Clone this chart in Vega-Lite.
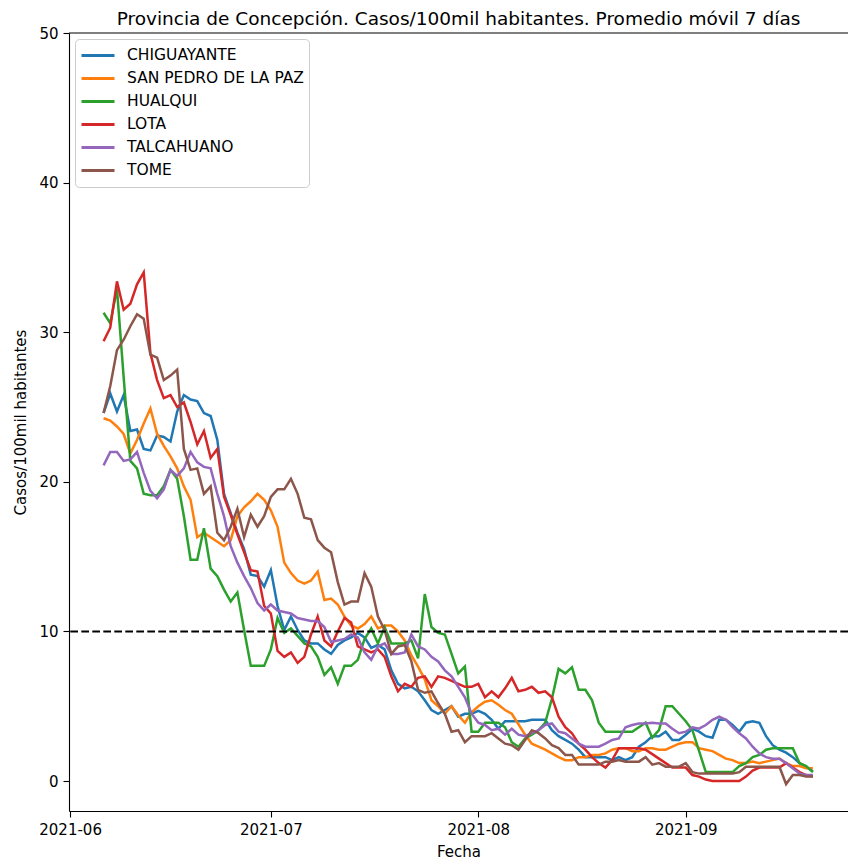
{
"$schema": "https://vega.github.io/schema/vega-lite/v6.json",
"autosize": {"type": "none"},
"padding": {"left": 69, "top": 33, "right": 0, "bottom": 48},
"width": 779,
"height": 778,
"background": "white",
"title": {"text": "Provincia de Concepción. Casos/100mil habitantes. Promedio móvil 7 días", "font": "DejaVu Sans", "fontSize": 18.5, "fontWeight": "normal", "color": "#000", "anchor": "middle", "offset": -2},
"datasets": {
"series": [
{"t":"2021-06-06","s":"CHIGUAYANTE","v":24.6},{"t":"2021-06-07","s":"CHIGUAYANTE","v":25.9},{"t":"2021-06-08","s":"CHIGUAYANTE","v":24.7},{"t":"2021-06-09","s":"CHIGUAYANTE","v":25.8},{"t":"2021-06-10","s":"CHIGUAYANTE","v":23.4},{"t":"2021-06-11","s":"CHIGUAYANTE","v":23.5},{"t":"2021-06-12","s":"CHIGUAYANTE","v":22.2},{"t":"2021-06-13","s":"CHIGUAYANTE","v":22.1},{"t":"2021-06-14","s":"CHIGUAYANTE","v":23.1},{"t":"2021-06-15","s":"CHIGUAYANTE","v":23.0},{"t":"2021-06-16","s":"CHIGUAYANTE","v":22.7},{"t":"2021-06-17","s":"CHIGUAYANTE","v":24.7},{"t":"2021-06-18","s":"CHIGUAYANTE","v":25.8},{"t":"2021-06-19","s":"CHIGUAYANTE","v":25.5},{"t":"2021-06-20","s":"CHIGUAYANTE","v":25.4},{"t":"2021-06-21","s":"CHIGUAYANTE","v":24.6},{"t":"2021-06-22","s":"CHIGUAYANTE","v":24.4},{"t":"2021-06-23","s":"CHIGUAYANTE","v":22.8},{"t":"2021-06-24","s":"CHIGUAYANTE","v":19.2},{"t":"2021-06-25","s":"CHIGUAYANTE","v":17.9},{"t":"2021-06-26","s":"CHIGUAYANTE","v":16.6},{"t":"2021-06-27","s":"CHIGUAYANTE","v":15.5},{"t":"2021-06-28","s":"CHIGUAYANTE","v":13.8},{"t":"2021-06-29","s":"CHIGUAYANTE","v":13.7},{"t":"2021-06-30","s":"CHIGUAYANTE","v":13.0},
{"t":"2021-07-01","s":"CHIGUAYANTE","v":14.1},{"t":"2021-07-02","s":"CHIGUAYANTE","v":11.7},{"t":"2021-07-03","s":"CHIGUAYANTE","v":10.1},{"t":"2021-07-04","s":"CHIGUAYANTE","v":11.0},{"t":"2021-07-05","s":"CHIGUAYANTE","v":10.1},{"t":"2021-07-06","s":"CHIGUAYANTE","v":9.4},{"t":"2021-07-07","s":"CHIGUAYANTE","v":9.2},{"t":"2021-07-08","s":"CHIGUAYANTE","v":9.2},{"t":"2021-07-09","s":"CHIGUAYANTE","v":8.8},{"t":"2021-07-10","s":"CHIGUAYANTE","v":8.5},{"t":"2021-07-11","s":"CHIGUAYANTE","v":9.1},{"t":"2021-07-12","s":"CHIGUAYANTE","v":9.4},{"t":"2021-07-13","s":"CHIGUAYANTE","v":9.6},{"t":"2021-07-14","s":"CHIGUAYANTE","v":9.9},{"t":"2021-07-15","s":"CHIGUAYANTE","v":9.6},{"t":"2021-07-16","s":"CHIGUAYANTE","v":8.9},{"t":"2021-07-17","s":"CHIGUAYANTE","v":9.1},{"t":"2021-07-18","s":"CHIGUAYANTE","v":8.8},{"t":"2021-07-19","s":"CHIGUAYANTE","v":7.4},{"t":"2021-07-20","s":"CHIGUAYANTE","v":6.5},{"t":"2021-07-21","s":"CHIGUAYANTE","v":6.2},{"t":"2021-07-22","s":"CHIGUAYANTE","v":6.3},{"t":"2021-07-23","s":"CHIGUAYANTE","v":6.0},{"t":"2021-07-24","s":"CHIGUAYANTE","v":5.4},{"t":"2021-07-25","s":"CHIGUAYANTE","v":4.75},{"t":"2021-07-26","s":"CHIGUAYANTE","v":4.5},{"t":"2021-07-27","s":"CHIGUAYANTE","v":4.75},{"t":"2021-07-28","s":"CHIGUAYANTE","v":5.0},{"t":"2021-07-29","s":"CHIGUAYANTE","v":4.3},{"t":"2021-07-30","s":"CHIGUAYANTE","v":4.5},{"t":"2021-07-31","s":"CHIGUAYANTE","v":4.5},
{"t":"2021-08-01","s":"CHIGUAYANTE","v":4.7},{"t":"2021-08-02","s":"CHIGUAYANTE","v":4.5},{"t":"2021-08-03","s":"CHIGUAYANTE","v":4.1},{"t":"2021-08-04","s":"CHIGUAYANTE","v":3.5},{"t":"2021-08-05","s":"CHIGUAYANTE","v":4.0},{"t":"2021-08-06","s":"CHIGUAYANTE","v":4.0},{"t":"2021-08-07","s":"CHIGUAYANTE","v":4.0},{"t":"2021-08-08","s":"CHIGUAYANTE","v":4.0},{"t":"2021-08-09","s":"CHIGUAYANTE","v":4.1},{"t":"2021-08-10","s":"CHIGUAYANTE","v":4.1},{"t":"2021-08-11","s":"CHIGUAYANTE","v":4.1},{"t":"2021-08-12","s":"CHIGUAYANTE","v":3.4},{"t":"2021-08-13","s":"CHIGUAYANTE","v":3.0},{"t":"2021-08-14","s":"CHIGUAYANTE","v":2.75},{"t":"2021-08-15","s":"CHIGUAYANTE","v":2.5},{"t":"2021-08-16","s":"CHIGUAYANTE","v":2.1},{"t":"2021-08-17","s":"CHIGUAYANTE","v":1.6},{"t":"2021-08-18","s":"CHIGUAYANTE","v":1.6},{"t":"2021-08-19","s":"CHIGUAYANTE","v":1.6},{"t":"2021-08-20","s":"CHIGUAYANTE","v":1.6},{"t":"2021-08-21","s":"CHIGUAYANTE","v":1.4},{"t":"2021-08-22","s":"CHIGUAYANTE","v":1.6},{"t":"2021-08-23","s":"CHIGUAYANTE","v":1.4},{"t":"2021-08-24","s":"CHIGUAYANTE","v":1.6},{"t":"2021-08-25","s":"CHIGUAYANTE","v":2.3},{"t":"2021-08-26","s":"CHIGUAYANTE","v":2.6},{"t":"2021-08-27","s":"CHIGUAYANTE","v":3.0},{"t":"2021-08-28","s":"CHIGUAYANTE","v":3.0},{"t":"2021-08-29","s":"CHIGUAYANTE","v":3.3},{"t":"2021-08-30","s":"CHIGUAYANTE","v":2.75},{"t":"2021-08-31","s":"CHIGUAYANTE","v":2.75},
{"t":"2021-09-01","s":"CHIGUAYANTE","v":3.1},{"t":"2021-09-02","s":"CHIGUAYANTE","v":3.5},{"t":"2021-09-03","s":"CHIGUAYANTE","v":3.3},{"t":"2021-09-04","s":"CHIGUAYANTE","v":3.0},{"t":"2021-09-05","s":"CHIGUAYANTE","v":2.9},{"t":"2021-09-06","s":"CHIGUAYANTE","v":4.1},{"t":"2021-09-07","s":"CHIGUAYANTE","v":4.1},{"t":"2021-09-08","s":"CHIGUAYANTE","v":3.75},{"t":"2021-09-09","s":"CHIGUAYANTE","v":3.3},{"t":"2021-09-10","s":"CHIGUAYANTE","v":3.9},{"t":"2021-09-11","s":"CHIGUAYANTE","v":4.0},{"t":"2021-09-12","s":"CHIGUAYANTE","v":3.9},{"t":"2021-09-13","s":"CHIGUAYANTE","v":3.0},{"t":"2021-09-14","s":"CHIGUAYANTE","v":2.4},{"t":"2021-09-15","s":"CHIGUAYANTE","v":2.1},{"t":"2021-09-16","s":"CHIGUAYANTE","v":1.9},{"t":"2021-09-17","s":"CHIGUAYANTE","v":1.6},{"t":"2021-09-18","s":"CHIGUAYANTE","v":1.2},{"t":"2021-09-19","s":"CHIGUAYANTE","v":0.96},{"t":"2021-09-20","s":"CHIGUAYANTE","v":0.65},

{"t":"2021-06-06","s":"SAN PEDRO DE LA PAZ","v":24.25},{"t":"2021-06-07","s":"SAN PEDRO DE LA PAZ","v":24.1},{"t":"2021-06-08","s":"SAN PEDRO DE LA PAZ","v":23.7},{"t":"2021-06-09","s":"SAN PEDRO DE LA PAZ","v":23.2},{"t":"2021-06-10","s":"SAN PEDRO DE LA PAZ","v":21.9},{"t":"2021-06-11","s":"SAN PEDRO DE LA PAZ","v":22.8},{"t":"2021-06-12","s":"SAN PEDRO DE LA PAZ","v":23.9},{"t":"2021-06-13","s":"SAN PEDRO DE LA PAZ","v":24.9},{"t":"2021-06-14","s":"SAN PEDRO DE LA PAZ","v":23.2},{"t":"2021-06-15","s":"SAN PEDRO DE LA PAZ","v":22.4},{"t":"2021-06-16","s":"SAN PEDRO DE LA PAZ","v":21.7},{"t":"2021-06-17","s":"SAN PEDRO DE LA PAZ","v":20.9},{"t":"2021-06-18","s":"SAN PEDRO DE LA PAZ","v":19.7},{"t":"2021-06-19","s":"SAN PEDRO DE LA PAZ","v":18.8},{"t":"2021-06-20","s":"SAN PEDRO DE LA PAZ","v":16.3},{"t":"2021-06-21","s":"SAN PEDRO DE LA PAZ","v":16.6},{"t":"2021-06-22","s":"SAN PEDRO DE LA PAZ","v":16.3},{"t":"2021-06-23","s":"SAN PEDRO DE LA PAZ","v":16.0},{"t":"2021-06-24","s":"SAN PEDRO DE LA PAZ","v":15.7},{"t":"2021-06-25","s":"SAN PEDRO DE LA PAZ","v":16.1},{"t":"2021-06-26","s":"SAN PEDRO DE LA PAZ","v":17.7},{"t":"2021-06-27","s":"SAN PEDRO DE LA PAZ","v":18.3},{"t":"2021-06-28","s":"SAN PEDRO DE LA PAZ","v":18.7},{"t":"2021-06-29","s":"SAN PEDRO DE LA PAZ","v":19.2},{"t":"2021-06-30","s":"SAN PEDRO DE LA PAZ","v":18.8},
{"t":"2021-07-01","s":"SAN PEDRO DE LA PAZ","v":18.1},{"t":"2021-07-02","s":"SAN PEDRO DE LA PAZ","v":17.0},{"t":"2021-07-03","s":"SAN PEDRO DE LA PAZ","v":14.6},{"t":"2021-07-04","s":"SAN PEDRO DE LA PAZ","v":13.9},{"t":"2021-07-05","s":"SAN PEDRO DE LA PAZ","v":13.4},{"t":"2021-07-06","s":"SAN PEDRO DE LA PAZ","v":13.2},{"t":"2021-07-07","s":"SAN PEDRO DE LA PAZ","v":13.4},{"t":"2021-07-08","s":"SAN PEDRO DE LA PAZ","v":14.0},{"t":"2021-07-09","s":"SAN PEDRO DE LA PAZ","v":12.1},{"t":"2021-07-10","s":"SAN PEDRO DE LA PAZ","v":12.2},{"t":"2021-07-11","s":"SAN PEDRO DE LA PAZ","v":11.8},{"t":"2021-07-12","s":"SAN PEDRO DE LA PAZ","v":11.0},{"t":"2021-07-13","s":"SAN PEDRO DE LA PAZ","v":10.4},{"t":"2021-07-14","s":"SAN PEDRO DE LA PAZ","v":10.2},{"t":"2021-07-15","s":"SAN PEDRO DE LA PAZ","v":10.5},{"t":"2021-07-16","s":"SAN PEDRO DE LA PAZ","v":11.0},{"t":"2021-07-17","s":"SAN PEDRO DE LA PAZ","v":10.2},{"t":"2021-07-18","s":"SAN PEDRO DE LA PAZ","v":10.4},{"t":"2021-07-19","s":"SAN PEDRO DE LA PAZ","v":10.4},{"t":"2021-07-20","s":"SAN PEDRO DE LA PAZ","v":10.0},{"t":"2021-07-21","s":"SAN PEDRO DE LA PAZ","v":9.4},{"t":"2021-07-22","s":"SAN PEDRO DE LA PAZ","v":8.4},{"t":"2021-07-23","s":"SAN PEDRO DE LA PAZ","v":7.65},{"t":"2021-07-24","s":"SAN PEDRO DE LA PAZ","v":6.8},{"t":"2021-07-25","s":"SAN PEDRO DE LA PAZ","v":5.4},{"t":"2021-07-26","s":"SAN PEDRO DE LA PAZ","v":5.0},{"t":"2021-07-27","s":"SAN PEDRO DE LA PAZ","v":4.5},{"t":"2021-07-28","s":"SAN PEDRO DE LA PAZ","v":5.0},{"t":"2021-07-29","s":"SAN PEDRO DE LA PAZ","v":4.4},{"t":"2021-07-30","s":"SAN PEDRO DE LA PAZ","v":3.9},{"t":"2021-07-31","s":"SAN PEDRO DE LA PAZ","v":4.6},
{"t":"2021-08-01","s":"SAN PEDRO DE LA PAZ","v":5.0},{"t":"2021-08-02","s":"SAN PEDRO DE LA PAZ","v":5.3},{"t":"2021-08-03","s":"SAN PEDRO DE LA PAZ","v":5.4},{"t":"2021-08-04","s":"SAN PEDRO DE LA PAZ","v":5.1},{"t":"2021-08-05","s":"SAN PEDRO DE LA PAZ","v":4.75},{"t":"2021-08-06","s":"SAN PEDRO DE LA PAZ","v":4.5},{"t":"2021-08-07","s":"SAN PEDRO DE LA PAZ","v":3.8},{"t":"2021-08-08","s":"SAN PEDRO DE LA PAZ","v":3.1},{"t":"2021-08-09","s":"SAN PEDRO DE LA PAZ","v":2.5},{"t":"2021-08-10","s":"SAN PEDRO DE LA PAZ","v":2.3},{"t":"2021-08-11","s":"SAN PEDRO DE LA PAZ","v":2.1},{"t":"2021-08-12","s":"SAN PEDRO DE LA PAZ","v":1.85},{"t":"2021-08-13","s":"SAN PEDRO DE LA PAZ","v":1.6},{"t":"2021-08-14","s":"SAN PEDRO DE LA PAZ","v":1.4},{"t":"2021-08-15","s":"SAN PEDRO DE LA PAZ","v":1.4},{"t":"2021-08-16","s":"SAN PEDRO DE LA PAZ","v":1.6},{"t":"2021-08-17","s":"SAN PEDRO DE LA PAZ","v":1.6},{"t":"2021-08-18","s":"SAN PEDRO DE LA PAZ","v":1.75},{"t":"2021-08-19","s":"SAN PEDRO DE LA PAZ","v":1.75},{"t":"2021-08-20","s":"SAN PEDRO DE LA PAZ","v":1.85},{"t":"2021-08-21","s":"SAN PEDRO DE LA PAZ","v":2.1},{"t":"2021-08-22","s":"SAN PEDRO DE LA PAZ","v":2.2},{"t":"2021-08-23","s":"SAN PEDRO DE LA PAZ","v":2.2},{"t":"2021-08-24","s":"SAN PEDRO DE LA PAZ","v":2.0},{"t":"2021-08-25","s":"SAN PEDRO DE LA PAZ","v":2.0},{"t":"2021-08-26","s":"SAN PEDRO DE LA PAZ","v":2.2},{"t":"2021-08-27","s":"SAN PEDRO DE LA PAZ","v":2.2},{"t":"2021-08-28","s":"SAN PEDRO DE LA PAZ","v":2.1},{"t":"2021-08-29","s":"SAN PEDRO DE LA PAZ","v":2.1},{"t":"2021-08-30","s":"SAN PEDRO DE LA PAZ","v":2.3},{"t":"2021-08-31","s":"SAN PEDRO DE LA PAZ","v":2.5},
{"t":"2021-09-01","s":"SAN PEDRO DE LA PAZ","v":2.6},{"t":"2021-09-02","s":"SAN PEDRO DE LA PAZ","v":2.6},{"t":"2021-09-03","s":"SAN PEDRO DE LA PAZ","v":2.2},{"t":"2021-09-04","s":"SAN PEDRO DE LA PAZ","v":2.1},{"t":"2021-09-05","s":"SAN PEDRO DE LA PAZ","v":2.0},{"t":"2021-09-06","s":"SAN PEDRO DE LA PAZ","v":1.75},{"t":"2021-09-07","s":"SAN PEDRO DE LA PAZ","v":1.5},{"t":"2021-09-08","s":"SAN PEDRO DE LA PAZ","v":1.4},{"t":"2021-09-09","s":"SAN PEDRO DE LA PAZ","v":1.2},{"t":"2021-09-10","s":"SAN PEDRO DE LA PAZ","v":1.2},{"t":"2021-09-11","s":"SAN PEDRO DE LA PAZ","v":1.3},{"t":"2021-09-12","s":"SAN PEDRO DE LA PAZ","v":1.2},{"t":"2021-09-13","s":"SAN PEDRO DE LA PAZ","v":1.3},{"t":"2021-09-14","s":"SAN PEDRO DE LA PAZ","v":1.4},{"t":"2021-09-15","s":"SAN PEDRO DE LA PAZ","v":1.5},{"t":"2021-09-16","s":"SAN PEDRO DE LA PAZ","v":1.2},{"t":"2021-09-17","s":"SAN PEDRO DE LA PAZ","v":1.0},{"t":"2021-09-18","s":"SAN PEDRO DE LA PAZ","v":1.0},{"t":"2021-09-19","s":"SAN PEDRO DE LA PAZ","v":0.85},{"t":"2021-09-20","s":"SAN PEDRO DE LA PAZ","v":0.85},

{"t":"2021-06-06","s":"HUALQUI","v":31.3},{"t":"2021-06-07","s":"HUALQUI","v":30.6},{"t":"2021-06-08","s":"HUALQUI","v":32.9},{"t":"2021-06-09","s":"HUALQUI","v":27.0},{"t":"2021-06-10","s":"HUALQUI","v":21.4},{"t":"2021-06-11","s":"HUALQUI","v":20.9},{"t":"2021-06-12","s":"HUALQUI","v":19.2},{"t":"2021-06-13","s":"HUALQUI","v":19.1},{"t":"2021-06-14","s":"HUALQUI","v":19.1},{"t":"2021-06-15","s":"HUALQUI","v":19.7},{"t":"2021-06-16","s":"HUALQUI","v":20.8},{"t":"2021-06-17","s":"HUALQUI","v":20.2},{"t":"2021-06-18","s":"HUALQUI","v":17.7},{"t":"2021-06-19","s":"HUALQUI","v":14.8},{"t":"2021-06-20","s":"HUALQUI","v":14.8},{"t":"2021-06-21","s":"HUALQUI","v":16.9},{"t":"2021-06-22","s":"HUALQUI","v":14.2},{"t":"2021-06-23","s":"HUALQUI","v":13.7},{"t":"2021-06-24","s":"HUALQUI","v":12.8},{"t":"2021-06-25","s":"HUALQUI","v":12.0},{"t":"2021-06-26","s":"HUALQUI","v":12.6},{"t":"2021-06-27","s":"HUALQUI","v":10.1},{"t":"2021-06-28","s":"HUALQUI","v":7.7},{"t":"2021-06-29","s":"HUALQUI","v":7.7},{"t":"2021-06-30","s":"HUALQUI","v":7.7},
{"t":"2021-07-01","s":"HUALQUI","v":8.8},{"t":"2021-07-02","s":"HUALQUI","v":10.9},{"t":"2021-07-03","s":"HUALQUI","v":9.9},{"t":"2021-07-04","s":"HUALQUI","v":10.2},{"t":"2021-07-05","s":"HUALQUI","v":9.7},{"t":"2021-07-06","s":"HUALQUI","v":9.2},{"t":"2021-07-07","s":"HUALQUI","v":9.0},{"t":"2021-07-08","s":"HUALQUI","v":8.3},{"t":"2021-07-09","s":"HUALQUI","v":7.1},{"t":"2021-07-10","s":"HUALQUI","v":7.6},{"t":"2021-07-11","s":"HUALQUI","v":6.5},{"t":"2021-07-12","s":"HUALQUI","v":7.7},{"t":"2021-07-13","s":"HUALQUI","v":7.7},{"t":"2021-07-14","s":"HUALQUI","v":8.1},{"t":"2021-07-15","s":"HUALQUI","v":9.5},{"t":"2021-07-16","s":"HUALQUI","v":10.2},{"t":"2021-07-17","s":"HUALQUI","v":9.2},{"t":"2021-07-18","s":"HUALQUI","v":10.3},{"t":"2021-07-19","s":"HUALQUI","v":9.2},{"t":"2021-07-20","s":"HUALQUI","v":9.2},{"t":"2021-07-21","s":"HUALQUI","v":9.2},{"t":"2021-07-22","s":"HUALQUI","v":9.4},{"t":"2021-07-23","s":"HUALQUI","v":8.2},{"t":"2021-07-24","s":"HUALQUI","v":12.5},{"t":"2021-07-25","s":"HUALQUI","v":10.3},{"t":"2021-07-26","s":"HUALQUI","v":9.9},{"t":"2021-07-27","s":"HUALQUI","v":9.8},{"t":"2021-07-28","s":"HUALQUI","v":8.5},{"t":"2021-07-29","s":"HUALQUI","v":7.2},{"t":"2021-07-30","s":"HUALQUI","v":7.65},{"t":"2021-07-31","s":"HUALQUI","v":3.3},
{"t":"2021-08-01","s":"HUALQUI","v":3.3},{"t":"2021-08-02","s":"HUALQUI","v":3.9},{"t":"2021-08-03","s":"HUALQUI","v":3.9},{"t":"2021-08-04","s":"HUALQUI","v":3.9},{"t":"2021-08-05","s":"HUALQUI","v":3.6},{"t":"2021-08-06","s":"HUALQUI","v":2.6},{"t":"2021-08-07","s":"HUALQUI","v":2.3},{"t":"2021-08-08","s":"HUALQUI","v":2.85},{"t":"2021-08-09","s":"HUALQUI","v":3.1},{"t":"2021-08-10","s":"HUALQUI","v":3.4},{"t":"2021-08-11","s":"HUALQUI","v":3.9},{"t":"2021-08-12","s":"HUALQUI","v":5.5},{"t":"2021-08-13","s":"HUALQUI","v":7.5},{"t":"2021-08-14","s":"HUALQUI","v":7.2},{"t":"2021-08-15","s":"HUALQUI","v":7.6},{"t":"2021-08-16","s":"HUALQUI","v":6.1},{"t":"2021-08-17","s":"HUALQUI","v":6.1},{"t":"2021-08-18","s":"HUALQUI","v":5.4},{"t":"2021-08-19","s":"HUALQUI","v":3.9},{"t":"2021-08-20","s":"HUALQUI","v":3.3},{"t":"2021-08-21","s":"HUALQUI","v":3.3},{"t":"2021-08-22","s":"HUALQUI","v":3.3},{"t":"2021-08-23","s":"HUALQUI","v":3.3},{"t":"2021-08-24","s":"HUALQUI","v":3.3},{"t":"2021-08-25","s":"HUALQUI","v":3.6},{"t":"2021-08-26","s":"HUALQUI","v":3.9},{"t":"2021-08-27","s":"HUALQUI","v":2.9},{"t":"2021-08-28","s":"HUALQUI","v":3.4},{"t":"2021-08-29","s":"HUALQUI","v":5.0},{"t":"2021-08-30","s":"HUALQUI","v":5.0},{"t":"2021-08-31","s":"HUALQUI","v":4.5},
{"t":"2021-09-01","s":"HUALQUI","v":4.0},{"t":"2021-09-02","s":"HUALQUI","v":3.4},{"t":"2021-09-03","s":"HUALQUI","v":2.0},{"t":"2021-09-04","s":"HUALQUI","v":0.6},{"t":"2021-09-05","s":"HUALQUI","v":0.6},{"t":"2021-09-06","s":"HUALQUI","v":0.6},{"t":"2021-09-07","s":"HUALQUI","v":0.6},{"t":"2021-09-08","s":"HUALQUI","v":0.6},{"t":"2021-09-09","s":"HUALQUI","v":1.0},{"t":"2021-09-10","s":"HUALQUI","v":1.2},{"t":"2021-09-11","s":"HUALQUI","v":1.6},{"t":"2021-09-12","s":"HUALQUI","v":1.75},{"t":"2021-09-13","s":"HUALQUI","v":2.1},{"t":"2021-09-14","s":"HUALQUI","v":2.2},{"t":"2021-09-15","s":"HUALQUI","v":2.2},{"t":"2021-09-16","s":"HUALQUI","v":2.2},{"t":"2021-09-17","s":"HUALQUI","v":2.2},{"t":"2021-09-18","s":"HUALQUI","v":1.2},{"t":"2021-09-19","s":"HUALQUI","v":1.0},{"t":"2021-09-20","s":"HUALQUI","v":0.6},

{"t":"2021-06-06","s":"LOTA","v":29.4},{"t":"2021-06-07","s":"LOTA","v":30.3},{"t":"2021-06-08","s":"LOTA","v":33.4},{"t":"2021-06-09","s":"LOTA","v":31.5},{"t":"2021-06-10","s":"LOTA","v":31.9},{"t":"2021-06-11","s":"LOTA","v":33.2},{"t":"2021-06-12","s":"LOTA","v":34.0},{"t":"2021-06-13","s":"LOTA","v":28.6},{"t":"2021-06-14","s":"LOTA","v":26.8},{"t":"2021-06-15","s":"LOTA","v":25.6},{"t":"2021-06-16","s":"LOTA","v":25.8},{"t":"2021-06-17","s":"LOTA","v":25.0},{"t":"2021-06-18","s":"LOTA","v":25.3},{"t":"2021-06-19","s":"LOTA","v":24.0},{"t":"2021-06-20","s":"LOTA","v":22.5},{"t":"2021-06-21","s":"LOTA","v":23.4},{"t":"2021-06-22","s":"LOTA","v":21.6},{"t":"2021-06-23","s":"LOTA","v":22.2},{"t":"2021-06-24","s":"LOTA","v":19.0},{"t":"2021-06-25","s":"LOTA","v":17.8},{"t":"2021-06-26","s":"LOTA","v":16.5},{"t":"2021-06-27","s":"LOTA","v":15.3},{"t":"2021-06-28","s":"LOTA","v":14.1},{"t":"2021-06-29","s":"LOTA","v":14.0},{"t":"2021-06-30","s":"LOTA","v":11.7},
{"t":"2021-07-01","s":"LOTA","v":11.2},{"t":"2021-07-02","s":"LOTA","v":8.7},{"t":"2021-07-03","s":"LOTA","v":8.3},{"t":"2021-07-04","s":"LOTA","v":8.6},{"t":"2021-07-05","s":"LOTA","v":7.9},{"t":"2021-07-06","s":"LOTA","v":8.3},{"t":"2021-07-07","s":"LOTA","v":9.8},{"t":"2021-07-08","s":"LOTA","v":11.0},{"t":"2021-07-09","s":"LOTA","v":9.4},{"t":"2021-07-10","s":"LOTA","v":9.0},{"t":"2021-07-11","s":"LOTA","v":10.0},{"t":"2021-07-12","s":"LOTA","v":10.9},{"t":"2021-07-13","s":"LOTA","v":10.6},{"t":"2021-07-14","s":"LOTA","v":9.0},{"t":"2021-07-15","s":"LOTA","v":8.8},{"t":"2021-07-16","s":"LOTA","v":8.6},{"t":"2021-07-17","s":"LOTA","v":8.8},{"t":"2021-07-18","s":"LOTA","v":8.3},{"t":"2021-07-19","s":"LOTA","v":7.0},{"t":"2021-07-20","s":"LOTA","v":6.0},{"t":"2021-07-21","s":"LOTA","v":6.5},{"t":"2021-07-22","s":"LOTA","v":6.3},{"t":"2021-07-23","s":"LOTA","v":6.9},{"t":"2021-07-24","s":"LOTA","v":7.0},{"t":"2021-07-25","s":"LOTA","v":6.3},{"t":"2021-07-26","s":"LOTA","v":7.0},{"t":"2021-07-27","s":"LOTA","v":6.9},{"t":"2021-07-28","s":"LOTA","v":6.7},{"t":"2021-07-29","s":"LOTA","v":6.5},{"t":"2021-07-30","s":"LOTA","v":6.3},{"t":"2021-07-31","s":"LOTA","v":6.3},
{"t":"2021-08-01","s":"LOTA","v":6.5},{"t":"2021-08-02","s":"LOTA","v":5.6},{"t":"2021-08-03","s":"LOTA","v":6.0},{"t":"2021-08-04","s":"LOTA","v":5.6},{"t":"2021-08-05","s":"LOTA","v":6.2},{"t":"2021-08-06","s":"LOTA","v":6.9},{"t":"2021-08-07","s":"LOTA","v":6.0},{"t":"2021-08-08","s":"LOTA","v":6.1},{"t":"2021-08-09","s":"LOTA","v":6.3},{"t":"2021-08-10","s":"LOTA","v":5.9},{"t":"2021-08-11","s":"LOTA","v":6.0},{"t":"2021-08-12","s":"LOTA","v":5.6},{"t":"2021-08-13","s":"LOTA","v":4.3},{"t":"2021-08-14","s":"LOTA","v":3.6},{"t":"2021-08-15","s":"LOTA","v":3.2},{"t":"2021-08-16","s":"LOTA","v":2.5},{"t":"2021-08-17","s":"LOTA","v":2.1},{"t":"2021-08-18","s":"LOTA","v":1.6},{"t":"2021-08-19","s":"LOTA","v":1.2},{"t":"2021-08-20","s":"LOTA","v":0.9},{"t":"2021-08-21","s":"LOTA","v":1.4},{"t":"2021-08-22","s":"LOTA","v":2.2},{"t":"2021-08-23","s":"LOTA","v":2.2},{"t":"2021-08-24","s":"LOTA","v":2.2},{"t":"2021-08-25","s":"LOTA","v":2.2},{"t":"2021-08-26","s":"LOTA","v":2.1},{"t":"2021-08-27","s":"LOTA","v":1.8},{"t":"2021-08-28","s":"LOTA","v":1.5},{"t":"2021-08-29","s":"LOTA","v":1.2},{"t":"2021-08-30","s":"LOTA","v":0.9},{"t":"2021-08-31","s":"LOTA","v":0.9},
{"t":"2021-09-01","s":"LOTA","v":0.9},{"t":"2021-09-02","s":"LOTA","v":0.4},{"t":"2021-09-03","s":"LOTA","v":0.3},{"t":"2021-09-04","s":"LOTA","v":0.1},{"t":"2021-09-05","s":"LOTA","v":0.0},{"t":"2021-09-06","s":"LOTA","v":0.0},{"t":"2021-09-07","s":"LOTA","v":0.0},{"t":"2021-09-08","s":"LOTA","v":0.0},{"t":"2021-09-09","s":"LOTA","v":0.0},{"t":"2021-09-10","s":"LOTA","v":0.3},{"t":"2021-09-11","s":"LOTA","v":0.7},{"t":"2021-09-12","s":"LOTA","v":0.9},{"t":"2021-09-13","s":"LOTA","v":0.9},{"t":"2021-09-14","s":"LOTA","v":0.9},{"t":"2021-09-15","s":"LOTA","v":0.9},{"t":"2021-09-16","s":"LOTA","v":1.2},{"t":"2021-09-17","s":"LOTA","v":0.9},{"t":"2021-09-18","s":"LOTA","v":0.6},{"t":"2021-09-19","s":"LOTA","v":0.4},{"t":"2021-09-20","s":"LOTA","v":0.3},

{"t":"2021-06-06","s":"TALCAHUANO","v":21.1},{"t":"2021-06-07","s":"TALCAHUANO","v":22.0},{"t":"2021-06-08","s":"TALCAHUANO","v":22.0},{"t":"2021-06-09","s":"TALCAHUANO","v":21.4},{"t":"2021-06-10","s":"TALCAHUANO","v":21.5},{"t":"2021-06-11","s":"TALCAHUANO","v":22.0},{"t":"2021-06-12","s":"TALCAHUANO","v":20.6},{"t":"2021-06-13","s":"TALCAHUANO","v":19.4},{"t":"2021-06-14","s":"TALCAHUANO","v":18.9},{"t":"2021-06-15","s":"TALCAHUANO","v":19.5},{"t":"2021-06-16","s":"TALCAHUANO","v":20.8},{"t":"2021-06-17","s":"TALCAHUANO","v":20.4},{"t":"2021-06-18","s":"TALCAHUANO","v":20.9},{"t":"2021-06-19","s":"TALCAHUANO","v":22.0},{"t":"2021-06-20","s":"TALCAHUANO","v":21.3},{"t":"2021-06-21","s":"TALCAHUANO","v":21.0},{"t":"2021-06-22","s":"TALCAHUANO","v":20.9},{"t":"2021-06-23","s":"TALCAHUANO","v":19.2},{"t":"2021-06-24","s":"TALCAHUANO","v":17.7},{"t":"2021-06-25","s":"TALCAHUANO","v":15.7},{"t":"2021-06-26","s":"TALCAHUANO","v":14.6},{"t":"2021-06-27","s":"TALCAHUANO","v":13.7},{"t":"2021-06-28","s":"TALCAHUANO","v":12.9},{"t":"2021-06-29","s":"TALCAHUANO","v":11.9},{"t":"2021-06-30","s":"TALCAHUANO","v":11.4},
{"t":"2021-07-01","s":"TALCAHUANO","v":11.8},{"t":"2021-07-02","s":"TALCAHUANO","v":11.4},{"t":"2021-07-03","s":"TALCAHUANO","v":11.3},{"t":"2021-07-04","s":"TALCAHUANO","v":11.2},{"t":"2021-07-05","s":"TALCAHUANO","v":10.9},{"t":"2021-07-06","s":"TALCAHUANO","v":10.8},{"t":"2021-07-07","s":"TALCAHUANO","v":10.7},{"t":"2021-07-08","s":"TALCAHUANO","v":10.7},{"t":"2021-07-09","s":"TALCAHUANO","v":10.3},{"t":"2021-07-10","s":"TALCAHUANO","v":9.3},{"t":"2021-07-11","s":"TALCAHUANO","v":9.4},{"t":"2021-07-12","s":"TALCAHUANO","v":9.5},{"t":"2021-07-13","s":"TALCAHUANO","v":9.8},{"t":"2021-07-14","s":"TALCAHUANO","v":9.6},{"t":"2021-07-15","s":"TALCAHUANO","v":8.6},{"t":"2021-07-16","s":"TALCAHUANO","v":8.1},{"t":"2021-07-17","s":"TALCAHUANO","v":9.0},{"t":"2021-07-18","s":"TALCAHUANO","v":9.2},{"t":"2021-07-19","s":"TALCAHUANO","v":8.5},{"t":"2021-07-20","s":"TALCAHUANO","v":8.5},{"t":"2021-07-21","s":"TALCAHUANO","v":8.6},{"t":"2021-07-22","s":"TALCAHUANO","v":9.8},{"t":"2021-07-23","s":"TALCAHUANO","v":9.0},{"t":"2021-07-24","s":"TALCAHUANO","v":8.8},{"t":"2021-07-25","s":"TALCAHUANO","v":8.3},{"t":"2021-07-26","s":"TALCAHUANO","v":8.0},{"t":"2021-07-27","s":"TALCAHUANO","v":7.4},{"t":"2021-07-28","s":"TALCAHUANO","v":7.0},{"t":"2021-07-29","s":"TALCAHUANO","v":6.3},{"t":"2021-07-30","s":"TALCAHUANO","v":5.6},{"t":"2021-07-31","s":"TALCAHUANO","v":4.5},
{"t":"2021-08-01","s":"TALCAHUANO","v":3.9},{"t":"2021-08-02","s":"TALCAHUANO","v":3.75},{"t":"2021-08-03","s":"TALCAHUANO","v":3.4},{"t":"2021-08-04","s":"TALCAHUANO","v":3.5},{"t":"2021-08-05","s":"TALCAHUANO","v":3.1},{"t":"2021-08-06","s":"TALCAHUANO","v":3.5},{"t":"2021-08-07","s":"TALCAHUANO","v":3.1},{"t":"2021-08-08","s":"TALCAHUANO","v":3.0},{"t":"2021-08-09","s":"TALCAHUANO","v":3.2},{"t":"2021-08-10","s":"TALCAHUANO","v":3.4},{"t":"2021-08-11","s":"TALCAHUANO","v":3.75},{"t":"2021-08-12","s":"TALCAHUANO","v":3.85},{"t":"2021-08-13","s":"TALCAHUANO","v":3.3},{"t":"2021-08-14","s":"TALCAHUANO","v":3.2},{"t":"2021-08-15","s":"TALCAHUANO","v":2.85},{"t":"2021-08-16","s":"TALCAHUANO","v":2.5},{"t":"2021-08-17","s":"TALCAHUANO","v":2.3},{"t":"2021-08-18","s":"TALCAHUANO","v":2.3},{"t":"2021-08-19","s":"TALCAHUANO","v":2.3},{"t":"2021-08-20","s":"TALCAHUANO","v":2.5},{"t":"2021-08-21","s":"TALCAHUANO","v":2.75},{"t":"2021-08-22","s":"TALCAHUANO","v":2.85},{"t":"2021-08-23","s":"TALCAHUANO","v":3.6},{"t":"2021-08-24","s":"TALCAHUANO","v":3.75},{"t":"2021-08-25","s":"TALCAHUANO","v":3.85},{"t":"2021-08-26","s":"TALCAHUANO","v":3.85},{"t":"2021-08-27","s":"TALCAHUANO","v":3.9},{"t":"2021-08-28","s":"TALCAHUANO","v":3.85},{"t":"2021-08-29","s":"TALCAHUANO","v":3.85},{"t":"2021-08-30","s":"TALCAHUANO","v":3.5},{"t":"2021-08-31","s":"TALCAHUANO","v":3.2},
{"t":"2021-09-01","s":"TALCAHUANO","v":3.3},{"t":"2021-09-02","s":"TALCAHUANO","v":3.6},{"t":"2021-09-03","s":"TALCAHUANO","v":3.5},{"t":"2021-09-04","s":"TALCAHUANO","v":3.75},{"t":"2021-09-05","s":"TALCAHUANO","v":4.1},{"t":"2021-09-06","s":"TALCAHUANO","v":4.3},{"t":"2021-09-07","s":"TALCAHUANO","v":4.1},{"t":"2021-09-08","s":"TALCAHUANO","v":3.6},{"t":"2021-09-09","s":"TALCAHUANO","v":3.2},{"t":"2021-09-10","s":"TALCAHUANO","v":2.85},{"t":"2021-09-11","s":"TALCAHUANO","v":2.3},{"t":"2021-09-12","s":"TALCAHUANO","v":1.85},{"t":"2021-09-13","s":"TALCAHUANO","v":1.6},{"t":"2021-09-14","s":"TALCAHUANO","v":1.5},{"t":"2021-09-15","s":"TALCAHUANO","v":1.5},{"t":"2021-09-16","s":"TALCAHUANO","v":1.2},{"t":"2021-09-17","s":"TALCAHUANO","v":0.85},{"t":"2021-09-18","s":"TALCAHUANO","v":0.5},{"t":"2021-09-19","s":"TALCAHUANO","v":0.4},{"t":"2021-09-20","s":"TALCAHUANO","v":0.4},

{"t":"2021-06-06","s":"TOME","v":24.6},{"t":"2021-06-07","s":"TOME","v":26.4},{"t":"2021-06-08","s":"TOME","v":28.8},{"t":"2021-06-09","s":"TOME","v":29.5},{"t":"2021-06-10","s":"TOME","v":30.4},{"t":"2021-06-11","s":"TOME","v":31.2},{"t":"2021-06-12","s":"TOME","v":30.9},{"t":"2021-06-13","s":"TOME","v":28.5},{"t":"2021-06-14","s":"TOME","v":28.3},{"t":"2021-06-15","s":"TOME","v":26.8},{"t":"2021-06-16","s":"TOME","v":27.1},{"t":"2021-06-17","s":"TOME","v":27.5},{"t":"2021-06-18","s":"TOME","v":22.2},{"t":"2021-06-19","s":"TOME","v":20.8},{"t":"2021-06-20","s":"TOME","v":20.9},{"t":"2021-06-21","s":"TOME","v":19.2},{"t":"2021-06-22","s":"TOME","v":19.7},{"t":"2021-06-23","s":"TOME","v":16.6},{"t":"2021-06-24","s":"TOME","v":16.1},{"t":"2021-06-25","s":"TOME","v":17.0},{"t":"2021-06-26","s":"TOME","v":18.2},{"t":"2021-06-27","s":"TOME","v":16.3},{"t":"2021-06-28","s":"TOME","v":17.8},{"t":"2021-06-29","s":"TOME","v":17.0},{"t":"2021-06-30","s":"TOME","v":17.7},
{"t":"2021-07-01","s":"TOME","v":19.0},{"t":"2021-07-02","s":"TOME","v":19.5},{"t":"2021-07-03","s":"TOME","v":19.5},{"t":"2021-07-04","s":"TOME","v":20.2},{"t":"2021-07-05","s":"TOME","v":19.2},{"t":"2021-07-06","s":"TOME","v":17.6},{"t":"2021-07-07","s":"TOME","v":17.5},{"t":"2021-07-08","s":"TOME","v":16.1},{"t":"2021-07-09","s":"TOME","v":15.6},{"t":"2021-07-10","s":"TOME","v":15.3},{"t":"2021-07-11","s":"TOME","v":13.3},{"t":"2021-07-12","s":"TOME","v":11.8},{"t":"2021-07-13","s":"TOME","v":12.0},{"t":"2021-07-14","s":"TOME","v":12.0},{"t":"2021-07-15","s":"TOME","v":13.9},{"t":"2021-07-16","s":"TOME","v":13.0},{"t":"2021-07-17","s":"TOME","v":11.0},{"t":"2021-07-18","s":"TOME","v":10.1},{"t":"2021-07-19","s":"TOME","v":8.5},{"t":"2021-07-20","s":"TOME","v":9.0},{"t":"2021-07-21","s":"TOME","v":9.1},{"t":"2021-07-22","s":"TOME","v":8.0},{"t":"2021-07-23","s":"TOME","v":6.1},{"t":"2021-07-24","s":"TOME","v":5.9},{"t":"2021-07-25","s":"TOME","v":6.0},{"t":"2021-07-26","s":"TOME","v":5.2},{"t":"2021-07-27","s":"TOME","v":4.5},{"t":"2021-07-28","s":"TOME","v":3.3},{"t":"2021-07-29","s":"TOME","v":3.4},{"t":"2021-07-30","s":"TOME","v":2.6},{"t":"2021-07-31","s":"TOME","v":3.0},
{"t":"2021-08-01","s":"TOME","v":3.0},{"t":"2021-08-02","s":"TOME","v":3.0},{"t":"2021-08-03","s":"TOME","v":3.2},{"t":"2021-08-04","s":"TOME","v":2.85},{"t":"2021-08-05","s":"TOME","v":2.5},{"t":"2021-08-06","s":"TOME","v":2.4},{"t":"2021-08-07","s":"TOME","v":2.1},{"t":"2021-08-08","s":"TOME","v":2.75},{"t":"2021-08-09","s":"TOME","v":3.4},{"t":"2021-08-10","s":"TOME","v":3.2},{"t":"2021-08-11","s":"TOME","v":2.85},{"t":"2021-08-12","s":"TOME","v":2.4},{"t":"2021-08-13","s":"TOME","v":2.2},{"t":"2021-08-14","s":"TOME","v":1.75},{"t":"2021-08-15","s":"TOME","v":1.75},{"t":"2021-08-16","s":"TOME","v":1.1},{"t":"2021-08-17","s":"TOME","v":1.1},{"t":"2021-08-18","s":"TOME","v":1.1},{"t":"2021-08-19","s":"TOME","v":1.1},{"t":"2021-08-20","s":"TOME","v":1.3},{"t":"2021-08-21","s":"TOME","v":1.3},{"t":"2021-08-22","s":"TOME","v":1.4},{"t":"2021-08-23","s":"TOME","v":1.3},{"t":"2021-08-24","s":"TOME","v":1.3},{"t":"2021-08-25","s":"TOME","v":1.3},{"t":"2021-08-26","s":"TOME","v":1.6},{"t":"2021-08-27","s":"TOME","v":1.1},{"t":"2021-08-28","s":"TOME","v":1.2},{"t":"2021-08-29","s":"TOME","v":0.96},{"t":"2021-08-30","s":"TOME","v":0.96},{"t":"2021-08-31","s":"TOME","v":0.96},
{"t":"2021-09-01","s":"TOME","v":1.2},{"t":"2021-09-02","s":"TOME","v":0.6},{"t":"2021-09-03","s":"TOME","v":0.5},{"t":"2021-09-04","s":"TOME","v":0.5},{"t":"2021-09-05","s":"TOME","v":0.5},{"t":"2021-09-06","s":"TOME","v":0.5},{"t":"2021-09-07","s":"TOME","v":0.5},{"t":"2021-09-08","s":"TOME","v":0.5},{"t":"2021-09-09","s":"TOME","v":0.6},{"t":"2021-09-10","s":"TOME","v":0.96},{"t":"2021-09-11","s":"TOME","v":0.96},{"t":"2021-09-12","s":"TOME","v":0.96},{"t":"2021-09-13","s":"TOME","v":0.96},{"t":"2021-09-14","s":"TOME","v":0.96},{"t":"2021-09-15","s":"TOME","v":0.96},{"t":"2021-09-16","s":"TOME","v":-0.2},{"t":"2021-09-17","s":"TOME","v":0.4},{"t":"2021-09-18","s":"TOME","v":0.4},{"t":"2021-09-19","s":"TOME","v":0.3},{"t":"2021-09-20","s":"TOME","v":0.3}
],
"threshold": [{"y": 10}],
"frame": [{"y": 50}]
},
"layer": [
{
"data": {"name": "series", "format": {"parse": {"t": "date:'%Y-%m-%d'"}}},
"mark": {"type": "line", "strokeWidth": 2.5, "clip": true},
"encoding": {
"x": {"field": "t", "type": "temporal",
"scale": {"domain": [{"year": 2021, "month": 5, "date": 31, "hours": 20}, {"year": 2021, "month": 9, "date": 25, "hours": 6}]},
"axis": {"format": "%Y-%m", "tickCount": {"interval": "month", "step": 1}, "title": "Fecha", "titlePadding": 7, "labelFlush": false, "labelOverlap": false}},
"y": {"field": "v", "type": "quantitative",
"scale": {"domain": [-2, 50], "nice": false, "zero": false},
"axis": {"values": [0, 10, 20, 30, 40, 50], "title": "Casos/100mil habitantes", "titlePadding": 10}},
"color": {"field": "s", "type": "nominal",
"scale": {"domain": ["CHIGUAYANTE", "SAN PEDRO DE LA PAZ", "HUALQUI", "LOTA", "TALCAHUANO", "TOME"],
"range": ["#1f77b4", "#ff7f0e", "#2ca02c", "#d62728", "#9467bd", "#8c564b"]},
"legend": {"title": null}}
}
},
{
"data": {"name": "threshold"},
"mark": {"type": "rule", "color": "#000", "strokeWidth": 2, "strokeDash": [7.7, 3.3]},
"encoding": {"y": {"field": "y", "type": "quantitative"}}
},
{
"data": {"name": "frame"},
"mark": {"type": "rule", "color": "#000", "strokeWidth": 1.1},
"encoding": {"y": {"field": "y", "type": "quantitative"}}
}
],
"config": {
"font": "DejaVu Sans",
"view": {"stroke": null},
"axis": {"labelFont": "DejaVu Sans", "labelFontSize": 15, "labelColor": "#000", "tickColor": "#000", "domainColor": "#000", "tickSize": 6, "tickWidth": 1.1, "domainWidth": 1.1, "labelPadding": 5, "grid": false, "titleFont": "DejaVu Sans", "titleFontSize": 15, "titleFontWeight": "normal", "titleColor": "#000"},
"legend": {"orient": "none", "legendX": 6, "legendY": 6, "symbolType": "stroke", "symbolSize": 1089, "symbolStrokeWidth": 3, "labelFont": "DejaVu Sans", "labelFontSize": 15.5, "labelColor": "#000", "labelOffset": 11, "rowPadding": 0, "clipHeight": 22.8, "padding": 5, "strokeColor": "#cccccc", "fillColor": "rgba(255,255,255,0.8)", "cornerRadius": 4, "labelLimit": 400}
}
}
